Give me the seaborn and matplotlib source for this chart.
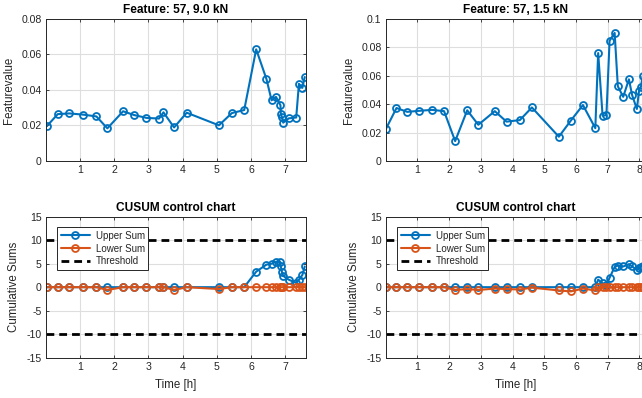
import numpy as np
import pandas as pd
import matplotlib
matplotlib.use("Agg")
import matplotlib.pyplot as plt
from matplotlib.lines import Line2D
import seaborn as sns

# ---- Feature 57 at 9.0 kN ----
time_9kN = [0.03, 0.35, 0.69, 1.10, 1.48, 1.80, 2.26, 2.58, 2.94, 3.31, 3.44, 3.75,
            4.12, 5.06, 5.44, 5.80, 6.15, 6.45, 6.60, 6.73, 6.86, 6.87, 6.90, 6.94,
            7.10, 7.32, 7.40, 7.50, 7.57]
feat_9kN = [0.0196, 0.0264, 0.0268, 0.0261, 0.0251, 0.0184, 0.0280, 0.0259, 0.0243,
            0.0239, 0.0274, 0.0189, 0.0272, 0.0201, 0.0270, 0.0287, 0.0629, 0.0462,
            0.0342, 0.0361, 0.0314, 0.0265, 0.0250, 0.0216, 0.0240, 0.0245, 0.0435,
            0.0412, 0.0473]
upper_9kN = [0, 0, 0, 0, 0, 0, 0, 0, 0, 0, 0, 0, 0, 0, 0, 0,
             3.3, 4.8, 5.0, 5.4, 5.3, 4.4, 3.3, 2.4, 1.6, 0.9, 1.6, 2.6, 4.4]
lower_9kN = [0, 0, 0, 0, 0, -0.6, 0, 0, 0, 0, 0, -0.6, 0, -0.4, 0, 0,
             0, 0, 0, 0, 0, 0, 0, 0, 0, 0, 0, 0, 0]

# ---- Feature 57 at 1.5 kN ----
time_1k5N = [0.00, 0.34, 0.68, 1.04, 1.46, 1.84, 2.19, 2.57, 2.92, 3.44, 3.81, 4.23,
             4.61, 5.46, 5.84, 6.22, 6.61, 6.70, 6.84, 6.96, 7.06, 7.22, 7.32, 7.49,
             7.67, 7.77, 7.92, 7.99, 8.05, 8.10]
feat_1k5N = [0.0223, 0.0373, 0.0346, 0.0353, 0.0360, 0.0351, 0.0140, 0.0357, 0.0255,
             0.0351, 0.0277, 0.0288, 0.0377, 0.0171, 0.0285, 0.0394, 0.0231, 0.0760,
             0.0319, 0.0322, 0.0847, 0.0902, 0.0526, 0.0452, 0.0575, 0.0465, 0.0366,
             0.0495, 0.0524, 0.0596]
upper_1k5N = [0, 0, 0, 0, 0, 0, 0, 0, 0, 0, 0, 0, 0, 0, 0, 0,
              0, 1.6, 0.8, 0.4, 2.0, 4.3, 4.6, 4.4, 4.9, 4.4, 3.7, 4.0, 4.3, 4.6]
lower_1k5N = [0, 0, 0, 0, 0, 0, -0.6, -0.4, -0.6, -0.3, -0.4, -0.5,
              -0.1, -0.7, -0.9, -0.3, -0.7, 0, 0, 0, 0, 0, 0, 0, 0, 0, 0, 0, 0, 0]

threshold = 10
titles_top = ["Feature: 57, 9.0 kN", "Feature: 57, 1.5 kN"]
title_bottom = "CUSUM control chart"

BLUE = "#0072BD"
ORANGE = "#D95319"
TXT = "#262626"
GRIDC = "#dedede"

sns.set_theme(style="ticks")
plt.rcParams["font.family"] = ["Liberation Sans", "DejaVu Sans"]
plt.rcParams.update({
    "axes.unicode_minus": False,
    "xtick.direction": "in", "ytick.direction": "in",
    "xtick.major.size": 2.5, "ytick.major.size": 2.5,
    "xtick.major.width": 0.6, "ytick.major.width": 0.6,
    "xtick.color": TXT, "ytick.color": TXT,
    "xtick.labelsize": 7.6, "ytick.labelsize": 7.6,
    "axes.edgecolor": TXT, "axes.linewidth": 0.7,
    "axes.labelcolor": TXT,
})

fig = plt.figure(figsize=(6.42, 3.98), dpi=100)
W = 0.405
ax_tl = fig.add_axes([0.0713, 0.5955, W, 0.3568])
ax_tr = fig.add_axes([0.6008, 0.5955, W, 0.3568])
ax_bl = fig.add_axes([0.0713, 0.1013, W, 0.3543])
ax_br = fig.add_axes([0.6008, 0.1013, W, 0.3543])

line_kw = dict(estimator=None, sort=False, marker="o", markersize=5,
               markerfacecolor="none", markeredgewidth=1.3, linewidth=1.5)


def style_axes(ax, xmax, xticks):
    ax.set_xlim(0, xmax)
    ax.set_xticks(xticks)
    ax.grid(True, color=GRIDC, linewidth=0.8)
    ax.set_axisbelow(True)
    for s in ax.spines.values():
        s.set_visible(True)
    ax.tick_params(top=True, right=True, pad=3)


def feature_panel(ax, t, f, title, ymax, yticks, xmax, xticks):
    df = pd.DataFrame({"Time": t, "Value": f})
    sns.lineplot(data=df, x="Time", y="Value", ax=ax, color=BLUE,
                 markeredgecolor=BLUE, **line_kw)
    style_axes(ax, xmax, xticks)
    ax.set_ylim(0, ymax)
    ax.set_yticks(yticks)
    ax.set_yticklabels([("0" if v == 0 else f"{v:g}") for v in yticks])
    ax.set_xlabel("")
    ax.set_ylabel("Featurevalue", fontsize=8.3)
    ax.yaxis.set_label_coords(-0.118, 0.5)
    ax.set_title(title, fontsize=8.6, fontweight="bold", pad=4, color="black")


def cusum_panel(ax, t, up, lo, xmax, xticks):
    df = pd.DataFrame({"Time": t, "Upper": up, "Lower": lo})
    sns.lineplot(data=df, x="Time", y="Upper", ax=ax, color=BLUE,
                 markeredgecolor=BLUE, **line_kw)
    sns.lineplot(data=df, x="Time", y="Lower", ax=ax, color=ORANGE,
                 markeredgecolor=ORANGE, **line_kw)
    for yv in (threshold, -threshold):
        ax.axhline(yv, color="black", linewidth=2, linestyle=(0, (2.8, 1.8)))
    style_axes(ax, xmax, xticks)
    ax.set_ylim(-15, 15)
    ax.set_yticks(np.arange(-15, 16, 5))
    ax.set_xlabel("Time [h]", fontsize=8.3)
    ax.xaxis.set_label_coords(0.5, -0.15)
    ax.set_ylabel("Cumulative Sums", fontsize=8.3)
    ax.yaxis.set_label_coords(-0.098, 0.5)
    ax.set_title(title_bottom, fontsize=8.6, fontweight="bold", pad=4, color="black")
    handles = [
        Line2D([], [], color=BLUE, lw=1.5, marker="o", ms=5, mfc="none", mew=1.3),
        Line2D([], [], color=ORANGE, lw=1.5, marker="o", ms=5, mfc="none", mew=1.3),
        Line2D([], [], color="black", lw=2, linestyle=(0, (2.8, 1.8))),
    ]
    leg = ax.legend(handles, ["Upper Sum", "Lower Sum", "Threshold"],
                    loc="upper left", bbox_to_anchor=(0.044, 0.925),
                    fontsize=7, frameon=True, fancybox=False, borderaxespad=0,
                    handlelength=3.0, handletextpad=0.6, borderpad=0.35,
                    labelspacing=0.3, numpoints=1)
    leg.get_frame().set_edgecolor(TXT)
    leg.get_frame().set_linewidth(0.7)
    leg.get_frame().set_facecolor("white")
    leg.get_frame().set_alpha(1)


feature_panel(ax_tl, time_9kN, feat_9kN, titles_top[0], 0.08,
              [0, 0.02, 0.04, 0.06, 0.08], 7.6, range(1, 8))
feature_panel(ax_tr, time_1k5N, feat_1k5N, titles_top[1], 0.1,
              [0, 0.02, 0.04, 0.06, 0.08, 0.1], 8.2, range(1, 9))
cusum_panel(ax_bl, time_9kN, upper_9kN, lower_9kN, 7.6, range(1, 8))
cusum_panel(ax_br, time_1k5N, upper_1k5N, lower_1k5N, 8.2, range(1, 9))

fig.savefig("out.png", dpi=100)
